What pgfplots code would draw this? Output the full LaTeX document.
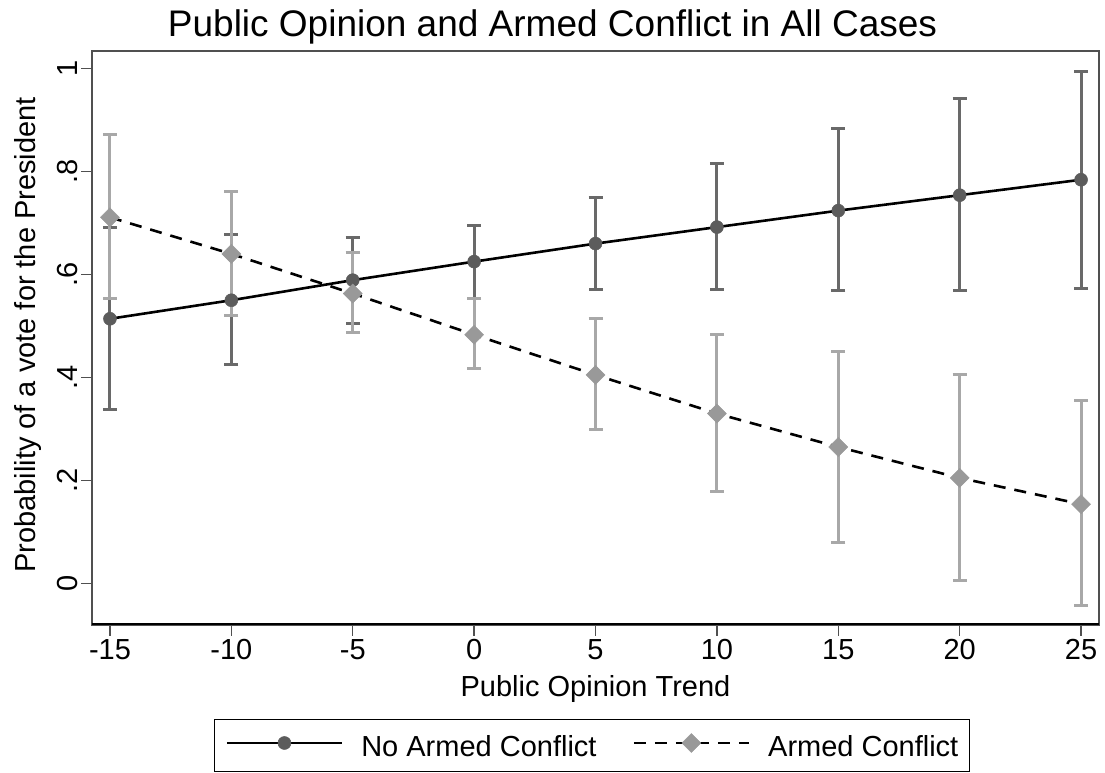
\documentclass[border=0pt]{standalone}
\usepackage{pgfplots}
\pgfplotsset{compat=1.18}
\usepackage{pgfplotstable}
\usepackage{fontspec}
\setmainfont{Liberation Sans}
\definecolor{circfill}{RGB}{92,92,92}
\definecolor{bardark}{RGB}{105,105,105}
\definecolor{diamfill}{RGB}{153,153,153}
\definecolor{barlight}{RGB}{168,168,168}
\definecolor{frame}{RGB}{80,80,80}
\newcommand{\tfont}{\fontsize{29bp}{34bp}\selectfont}
\pgfplotstableread{
x    y1    lo1   hi1   y2    lo2    hi2
-15  0.514 0.337 0.692 0.711 0.554  0.871
-10  0.550 0.426 0.677 0.640 0.521  0.762
-5   0.589 0.505 0.672 0.563 0.487  0.642
0    0.625 0.554 0.695 0.483 0.418  0.554
5    0.660 0.571 0.749 0.405 0.299  0.515
10   0.692 0.571 0.815 0.330 0.178  0.484
15   0.724 0.569 0.883 0.265 0.080  0.450
20   0.754 0.569 0.942 0.205 0.006  0.405
25   0.784 0.572 0.994 0.154 -0.043 0.356
}\datatable
\begin{document}
\begin{tikzpicture}[x=1bp,y=1bp]
\useasboundingbox (0,0) rectangle (1105,773);
\begin{axis}[
  at={(92bp,148bp)}, anchor=south west,
  width=1007bp, height=574bp, scale only axis,
  xmin=-15.74, xmax=25.74, ymin=-0.0806, ymax=1.034,
  axis line style={draw=frame, line width=1.2bp},
  xtick={-15,-10,...,25},
  xticklabels={-15,-10,-5,0,5,10,15,20,25},
  ytick={0,0.2,0.4,0.6,0.8,1},
  yticklabels={0,.2,.4,.6,.8,1},
  tick pos=left,
  tick align=outside,
  major tick length=11bp,
  tick style={draw=frame, line width=1.3bp},
  ticklabel style={font=\tfont},
  yticklabel style={rotate=90, anchor=south},
  legend columns=2,
  legend style={at={(0.4965,-0.1638)}, anchor=north, draw=black, line width=1bp,
    font=\tfont, inner xsep=11bp, inner ysep=14bp,
    nodes={inner sep=0bp},
    /tikz/every odd column/.append style={column sep=18bp},
    /tikz/every even column/.append style={column sep=36bp}},
  legend image code/.code={\draw[#1, mark repeat=2, mark phase=2] plot coordinates {(0bp,0.35em) (57.5bp,0.35em) (115bp,0.35em)};},
]
\addplot[bardark, only marks, mark=none, forget plot,
  error bars/.cd, y dir=both, y explicit,
  error bar style={line width=3bp, draw=bardark},
  error mark options={rotate=90, draw=bardark, line width=3bp, mark size=7bp}]
  table[x=x, y=y1, y error plus expr=\thisrow{hi1}-\thisrow{y1}, y error minus expr=\thisrow{y1}-\thisrow{lo1}] \datatable;
\addplot[barlight, only marks, mark=none, forget plot,
  error bars/.cd, y dir=both, y explicit,
  error bar style={line width=3bp, draw=barlight},
  error mark options={rotate=90, draw=barlight, line width=3bp, mark size=7bp}]
  table[x=x, y=y2, y error plus expr=\thisrow{hi2}-\thisrow{y2}, y error minus expr=\thisrow{y2}-\thisrow{lo2}] \datatable;
\addplot[black, line width=2.6bp, mark=*, mark size=6.5bp,
  mark options={solid, fill=circfill, draw=circfill, line width=0.5bp}]
  table[x=x, y=y1] \datatable;
\addlegendentry{No Armed Conflict}
\addplot[black, line width=2.6bp, dash pattern=on 12bp off 9bp, mark=square*, mark size=6.7bp,
  mark options={solid, rotate=45, fill=diamfill, draw=diamfill, line width=0.5bp}]
  table[x=x, y=y2] \datatable;
\addlegendentry{Armed Conflict}
\draw[black, line width=3bp] (rel axis cs:0,0) -- (rel axis cs:1,0);
\end{axis}
\node[font=\fontsize{37bp}{44bp}\selectfont, anchor=base] at (552.5,736) {Public Opinion and Armed Conflict in All Cases};
\node[font=\tfont, anchor=base] at (595.5,76) {Public Opinion Trend};
\node[font=\tfont, anchor=base, rotate=90] at (35,438) {Probability of a vote for the President};
\end{tikzpicture}
\end{document}
